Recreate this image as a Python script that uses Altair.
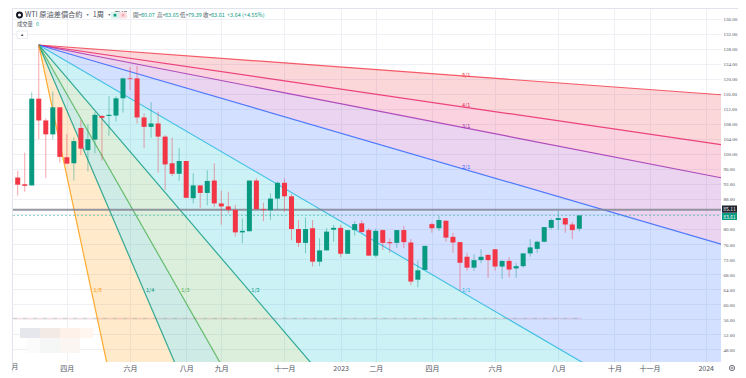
import altair as alt
import pandas as pd

# Weekly candles (index 0 = first bar on screen)
opens = [93.7,91.9,91.6,114.7,108.9,105.2,112.4,99.1,97.5,106.9,101.0,103.8,110.1,110.1,110.2,114.8,120.1,120.1,109.7,107.2,
         108.1,104.6,97.5,94.7,98.1,88.2,91.6,89.6,92.9,86.8,86.0,85.1,79.1,79.4,92.9,85.3,85.0,88.1,92.3,88.7,
         80.0,76.3,80.2,71.3,74.3,79.8,80.3,73.4,79.7,81.5,79.7,72.9,79.7,76.5,76.3,79.7,76.4,66.5,69.1,81.3,
         80.2,82.2,77.9,76.5,72.6,69.7,71.7,73.1,74.6,70.0,71.5,69.5,70.1,73.5,74.7,76.6,80.3,82.4,82.9,81.2,80.07]
highs = [95.5,100.3,116.4,129.0,109.5,116.6,112.4,105.3,104.4,109.0,107.9,111.2,110.4,115.4,115.4,120.3,123.1,123.4,110.8,113.8,
         111.2,105.0,104.3,101.6,98.1,94.8,91.6,95.6,97.5,90.2,89.9,86.4,82.8,92.9,93.5,87.0,89.5,92.6,93.5,89.3,
         82.4,83.1,82.4,77.5,80.2,81.1,81.1,79.7,82.1,82.3,80.2,80.1,79.9,77.5,79.7,80.8,77.3,71.6,75.5,81.7,
         83.5,82.2,79.0,76.5,73.7,73.3,74.6,73.3,74.6,71.6,72.5,70.9,73.5,77.3,76.9,80.5,82.8,84.8,82.9,81.9,83.65]
lows = [88.9,89.9,91.6,103.9,93.5,103.9,97.7,97.4,92.9,99.7,95.3,100.2,98.2,104.8,108.6,111.0,117.0,108.1,101.5,104.3,
        95.0,90.4,94.1,92.8,88.3,86.8,85.6,86.3,85.8,81.1,84.2,78.0,76.2,79.4,85.3,82.1,82.4,85.1,84.6,77.0,
        75.2,73.5,70.0,70.1,74.3,76.6,72.5,73.4,78.2,78.9,72.9,72.4,74.4,73.7,74.9,74.9,65.1,64.5,69.1,79.0,
        79.5,76.6,73.7,63.5,68.9,68.9,70.9,67.0,68.9,66.7,67.1,67.0,69.7,72.6,73.7,76.4,79.9,79.7,79.0,77.3,79.39]
closes = [91.8,91.5,114.7,108.9,105.2,112.4,99.2,97.4,103.4,101.4,103.9,110.4,109.6,110.4,114.8,120.1,119.9,109.7,107.2,108.1,
          104.6,97.2,94.7,98.1,88.3,91.6,89.6,92.8,86.8,86.0,85.1,79.1,79.5,92.9,85.3,85.1,88.1,92.3,88.7,80.0,
          76.3,80.0,71.3,74.3,79.3,80.3,73.4,79.7,81.3,79.2,72.9,79.5,76.3,76.2,79.7,76.5,66.0,69.0,75.5,80.2,
          82.4,77.7,76.4,71.0,69.7,71.7,72.6,71.7,70.0,71.5,69.2,70.1,73.5,75.1,76.6,80.5,82.4,82.9,81.2,79.7,83.61]

# Gann fan anchors: high bar -> low bar
fan_start_bar, fan_start_price = 3, 129.0
fan_end_bar, fan_end_price = 63, 63.5
fan_labels = ["8/1","4/1","3/1","2/1","1/1","1/2","1/3","1/4","1/8"]
fan_ratios = [8, 4, 3, 2, 1, 1/2, 1/3, 1/4, 1/8]
fan_line_colors = ["#F23645","#E91E63","#9C27B0","#2962FF","#22B8E0","#089981","#4CAF50","#089981","#FF9800"]
fan_fill_colors = ["#F23645","#E91E63","#9C27B0","#2962FF","#00BCD4","#4CAF50","#089981","#FF9800"]

# Axes
x_tick_bars = [7,16,24,29,38,46,51,59,68,77,85,90,98]
x_tick_labels = ["四月","六月","八月","九月","十一月","2023","二月","四月","六月","八月","十月","十一月","2024"]
y_ticks = list(range(48, 137, 4))
y_tick_hidden_under_tags = 84
x_domain = [-0.67, 100.18]
y_domain = [44.58, 138.58]

prev_close_price = 85.11
last_price = 83.61
pale_level = 56.2
pale_level_end_bar = 80.3

FONT = "Noto Sans CJK TC"
W, H = 708, 353
GREEN, RED = "#089981", "#F23645"
TXT = "#50535e"

candles = pd.DataFrame({"bar": range(len(opens)), "o": opens, "h": highs, "l": lows, "c": closes})
candles["dir"] = ["up" if c >= o else "down" for o, c in zip(opens, closes)]

sx = alt.Scale(domain=x_domain, nice=False, zero=False, padding=0)
sy = alt.Scale(domain=y_domain, nice=False, zero=False, padding=0)
dir_color = alt.Color("dir:N", scale=alt.Scale(domain=["up", "down"], range=[GREEN, RED]), legend=None)

label_expr = "{" + ",".join(f"'{b}':'{l}'" for b, l in zip(x_tick_bars, x_tick_labels)) + "}[datum.value]"
x_axis = alt.Axis(values=x_tick_bars, labelExpr=label_expr, title=None, domain=False, ticks=False,
                  labelPadding=2, labelFontSize=7, labelFont=FONT, labelColor=TXT,
                  gridColor="#eef0f6", labelOverlap=False, labelFlush=False)
y_axis = alt.Axis(values=y_ticks, orient="right", title=None, domain=False, ticks=False,
                  labelExpr=f"datum.value === {y_tick_hidden_under_tags} ? '' : format(datum.value, '.2f')",
                  labelPadding=2, labelFontSize=5, labelFont="Liberation Sans Narrow", labelColor=TXT,
                  gridColor="#eef0f6", labelOverlap=False, labelFlush=False)

def X(field):
    return alt.X(field, scale=sx, axis=x_axis)
def Y(field):
    return alt.Y(field, scale=sy, axis=y_axis)

wicks = alt.Chart(candles).mark_rule(strokeWidth=1, opacity=0.45).encode(
    x=X("bar:Q"), y=Y("h:Q"), y2="l:Q", color=dir_color)
bodies = alt.Chart(candles).mark_bar(size=5).encode(
    x=X("bar:Q"), y=Y("o:Q"), y2="c:Q", color=dir_color)

# fan geometry
slope = (fan_start_price - fan_end_price) / (fan_end_bar - fan_start_bar)
right = x_domain[1]
def price_at(bar, ratio):
    return fan_start_price - slope * (bar - fan_start_bar) / ratio

band_rows = []
for k, col in enumerate(fan_fill_colors):
    for bar in (fan_start_bar, right):
        band_rows.append({"band": k, "col": col, "bar": bar,
                          "p1": price_at(bar, fan_ratios[k]), "p2": price_at(bar, fan_ratios[k + 1])})
bands = alt.Chart(pd.DataFrame(band_rows)).mark_area(clip=True, opacity=0.2).encode(
    x=X("bar:Q"), y=Y("p1:Q"), y2="p2:Q",
    detail="band:N", color=alt.Color("col:N", scale=None))

line_rows = pd.DataFrame([{"lab": l, "col": c, "b0": fan_start_bar, "b1": right,
                           "p0": fan_start_price, "p1": price_at(right, r)}
                          for l, c, r in zip(fan_labels, fan_line_colors, fan_ratios)])
lines = alt.Chart(line_rows).mark_rule(clip=True, strokeWidth=1.2, opacity=0.8).encode(
    x=X("b0:Q"), x2="b1:Q", y=Y("p0:Q"), y2="p1:Q",
    color=alt.Color("col:N", scale=None))

lab_rows = []
run = fan_end_bar - fan_start_bar
for l, c, r in zip(fan_labels, fan_line_colors, fan_ratios):
    if r >= 1:
        lab_rows.append({"lab": l, "col": c, "bar": fan_end_bar, "p": price_at(fan_end_bar, r)})
    else:
        lab_rows.append({"lab": l, "col": c, "bar": fan_start_bar + run * r, "p": fan_end_price})
fan_text = alt.Chart(pd.DataFrame(lab_rows)).mark_text(
    align="left", baseline="middle", dx=2, dy=-1, fontSize=5.5, font=FONT).encode(
    x=X("bar:Q"), y=Y("p:Q"), text="lab:N",
    color=alt.Color("col:N", scale=None))

one = pd.DataFrame({"a": [0]})
def hline(price, **kw):
    return alt.Chart(pd.DataFrame({"p": [price]})).mark_rule(**kw).encode(
        y=Y("p:Q"), x=alt.value(0), x2=alt.value(W))

prev_line = hline(prev_close_price, color="#7d7f8e", strokeWidth=2, opacity=0.8)
last_line = hline(last_price, color="#2bb3a0", strokeWidth=1, strokeDash=[2, 2], opacity=0.55)
pale_df = pd.DataFrame({"p": [pale_level], "b0": [x_domain[0]], "b1": [pale_level_end_bar]})
pale1 = alt.Chart(pale_df).mark_rule(color="#F23645", strokeWidth=1, opacity=0.2).encode(
    y=Y("p:Q"), x=X("b0:Q"), x2="b1:Q")
pale2 = alt.Chart(pale_df).mark_rule(color=GREEN, strokeWidth=1, opacity=0.2, strokeDash=[4, 6]).encode(
    y=Y("p:Q"), x=X("b0:Q"), x2="b1:Q")

OX, OY = 13, 9   # page position of the plot origin
def txt(s, px, py, color=TXT, size=6.5, align="left", weight="normal"):
    return alt.Chart(one).mark_text(align=align, baseline="middle", fontSize=size, font=FONT,
                                    color=color, fontWeight=weight).encode(
        x=alt.value(px - OX), y=alt.value(py - OY), text=alt.value(s))
def box(x0, y0, x1, y1, color, **kw):
    return alt.Chart(one).mark_rect(color=color, **kw).encode(
        x=alt.value(x0 - OX), x2=alt.value(x1 - OX), y=alt.value(y0 - OY), y2=alt.value(y1 - OY))
def dot(px, py, size, **kw):
    return alt.Chart(one).mark_point(**kw).encode(
        x=alt.value(px - OX), y=alt.value(py - OY), size=alt.value(size))

chrome = [
    # frame
    box(13, 8, 738, 9, "#e0e3eb"),
    box(12, 8, 13, 372, "#e0e3eb"),
    # blurred logo patch
    box(20, 328, 40, 338, "#e6e7ec"), box(40, 328, 60, 338, "#f3eae5"),
    box(60, 328, 80, 338, "#fdf1ea"), box(80, 328, 93, 338, "#fff6f0"),
    box(27, 338, 40, 353, "#fbfbfb"), box(40, 338, 60, 353, "#f4f7f6"), box(60, 338, 80, 353, "#fcf6f3"),
    # header
    dot(19.5, 15, 48, filled=True, color="#131722", opacity=1),
    dot(19.5, 15, 10, filled=True, color="#ffffff", opacity=1),
    txt("WTI 原油差價合約 · 1周 · TVC", 25, 15, size=7.2),
    box(111, 12, 119, 18.5, "#d8f3ec"),
    box(119, 12, 127, 18.5, "#fde0e3"),
    dot(115, 15.2, 7, filled=True, color=GREEN, opacity=1, shape="square"),
    dot(123, 15.2, 7, filled=True, color="#f7a9b1", opacity=1, shape="square"),
    txt("開=", 133, 15, size=5.5), txt("80.07", 141, 15, GREEN, size=5.5),
    txt("高=", 157, 15, size=5.5), txt("83.65", 165, 15, GREEN, size=5.5),
    txt("低=", 180, 15, size=5.5), txt("79.39", 188, 15, GREEN, size=5.5),
    txt("收=", 203, 15, size=5.5), txt("83.61", 211, 15, GREEN, size=5.5),
    txt("+3.64 (+4.55%)", 227, 15, GREEN, size=5.5),
    txt("成交量", 17, 24, size=5.3), txt("0", 36, 24, "#26a69a", size=5.3),
    box(17, 31, 27.5, 38.5, "#ffffff", stroke="#e0e3eb", strokeWidth=0.7),
    dot(22.2, 34.8, 7, shape="triangle-up", filled=True, color="#50535e", opacity=1),
    # clipped month label at the left edge
    txt("月", 15, 367, size=6.5, align="center"),
    # price tags
    box(722, 205.5, 737, 212.7, "#1e222d"),
    txt("85.11", 729.5, 209, "#ffffff", size=5, align="center"),
    box(722, 213, 737, 220, GREEN),
    txt("83.61", 729.5, 216.6, "#ffffff", size=5, align="center"),
    # auto-scale icon
    dot(732, 368, 28, filled=False, color="#50535e", strokeWidth=0.8, opacity=1),
    dot(732, 368, 4, filled=False, color="#50535e", strokeWidth=0.6, opacity=1),
]

chart = alt.layer(bands, lines, fan_text, pale1, pale2, prev_line, last_line, wicks, bodies, *chrome).properties(
    width=W, height=H,
    padding={"left": OX - 8, "top": OY - 8, "right": 17, "bottom": 12},
    autosize=alt.AutoSizeParams(type="none"),
    background="#ffffff",
).configure_view(stroke=None)

chart.save("out.html", embed_options={"renderer": "svg", "actions": False})
